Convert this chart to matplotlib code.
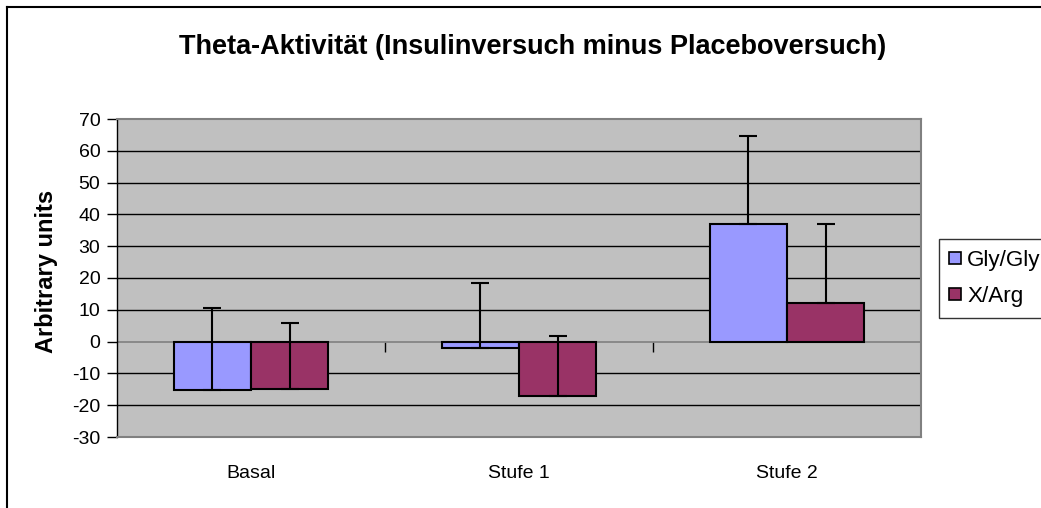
import matplotlib
matplotlib.use("Agg")
import matplotlib.pyplot as plt
import numpy as np
from matplotlib.lines import Line2D

categories = ["Basal", "Stufe 1", "Stufe 2"]
series_names = ["Gly/Gly", "X/Arg"]
gly_values = [-15.3, -2.1, 36.9]
gly_err = [25.8, 20.6, 27.6]
arg_values = [-14.8, -17.1, 12.1]
arg_err = [20.7, 18.9, 24.8]
yticks = [-30, -20, -10, 0, 10, 20, 30, 40, 50, 60, 70]
title = "Theta-Aktivität (Insulinversuch minus Placeboversuch)"
ylabel = "Arbitrary units"

W, H = 1041, 508
plt.rcParams['font.family'] = ['Liberation Sans', 'DejaVu Sans']
plt.rcParams['axes.unicode_minus'] = False
fig = plt.figure(figsize=(W / 100, H / 100), dpi=100)

ax = fig.add_axes([117 / W, (H - 437) / H, 804 / W, 318 / H])
ax.set_facecolor("#C0C0C0")
ymin, ymax = -30, 70
ax.set_ylim(ymin, ymax)
ax.set_xlim(-0.5, 2.5)

x = np.arange(len(categories))
bw = 0.289
colors = ["#9999FF", "#993366"]
for vals, errs, off, col in [(gly_values, gly_err, -bw / 2, colors[0]),
                             (arg_values, arg_err, bw / 2, colors[1])]:
    ax.bar(x + off, vals, width=bw, color=col, edgecolor="black", linewidth=1.5, zorder=3)
    ax.errorbar(x + off, vals, yerr=[np.zeros(len(vals)), errs], fmt="none",
                ecolor="black", elinewidth=1.5, capsize=6.5, capthick=1.5, zorder=4)

# gridlines
for t in yticks[1:-1]:
    if t != 0:
        ax.axhline(t, color="black", linewidth=1.0, zorder=1)
ax.axhline(0, color="#808080", linewidth=1.2, zorder=2)

for s in ["top", "right", "bottom"]:
    ax.spines[s].set_color("#808080")
    ax.spines[s].set_linewidth(1.5)
ax.spines["left"].set_color("black")
ax.spines["left"].set_linewidth(1.0)

ax.set_yticks(yticks)
ax.tick_params(axis="y", direction="out", length=7, width=1, colors="black",
               labelsize=14, pad=5)
ax.set_xticks(x)
ax.set_xticklabels(categories, fontsize=14)
ax.tick_params(axis="x", length=0, pad=20)

# category boundary ticks at y=0
sec = ax.secondary_xaxis((0 - ymin) / (ymax - ymin))
sec.set_xticks([0.5, 1.5])
sec.set_xticklabels([])
sec.tick_params(axis="x", direction="out", length=7, width=1, colors="black")
sec.spines["bottom"].set_visible(False)

ax.set_ylabel(ylabel, fontsize=17, fontweight="bold")
ax.yaxis.set_label_coords((58 - 117) / 804, (437 - 271) / 318)

fig.text(533 / W, 1 - 54 / H, title, fontsize=19.5, fontweight="bold",
         ha="center", va="baseline")

handles = [Line2D([0], [0], marker="s", linestyle="none", markersize=8,
                  markerfacecolor=c, markeredgecolor="black", markeredgewidth=1.2)
           for c in colors]
leg = fig.legend(handles, series_names, loc="upper left",
                 bbox_to_anchor=(939 / W, 1 - 239 / H), fontsize=16.2,
                 frameon=True, fancybox=False, handlelength=0.45, handletextpad=0.3,
                 borderpad=0.5, labelspacing=0.64, borderaxespad=0)
leg.get_frame().set_edgecolor("black")
leg.get_frame().set_linewidth(1.0)

# outer border (top and left visible)
fig.add_artist(Line2D([7 / W, 7 / W], [0, 1 - 7 / H], transform=fig.transFigure,
                      color="black", linewidth=1.5))
fig.add_artist(Line2D([7 / W, 1], [1 - 7 / H, 1 - 7 / H], transform=fig.transFigure,
                      color="black", linewidth=1.5))

fig.savefig("out.png", dpi=100)
